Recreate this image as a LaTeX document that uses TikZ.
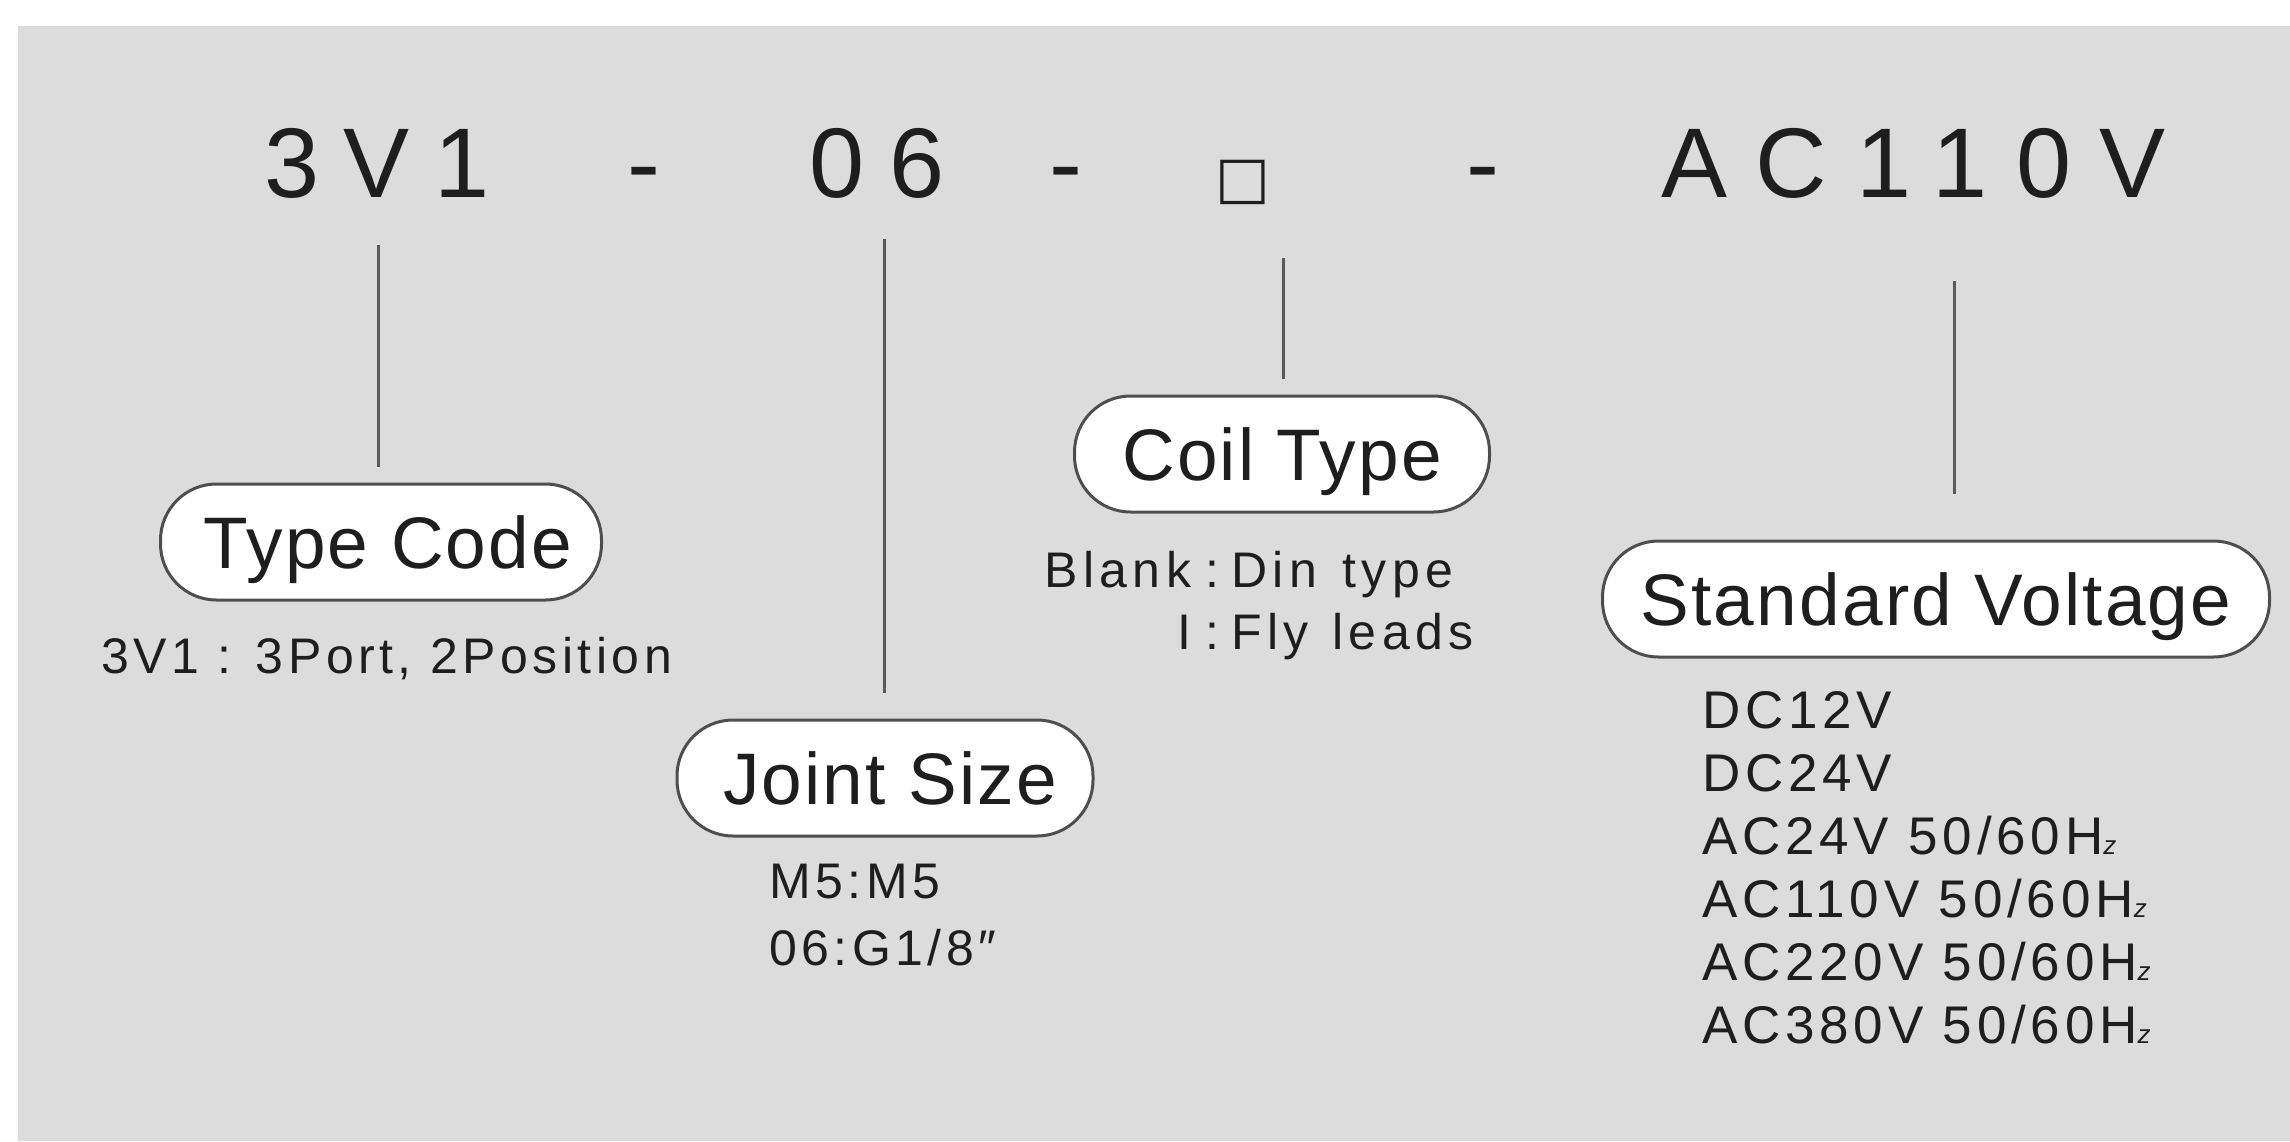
\documentclass[tikz,border=0pt]{standalone}
\usepackage{fontspec}
\setmainfont{Liberation Sans}
\newfontfamily\symfont{DejaVu Sans}
\definecolor{bg}{RGB}{220,220,220}
\definecolor{ink}{RGB}{30,30,30}
\definecolor{edge}{RGB}{78,78,78}
\definecolor{wire}{RGB}{90,90,90}
\newcommand\smallz{{\fontsize{26}{26}\selectfont\itshape z}}
\begin{document}
\begin{tikzpicture}[x=1pt,y=-1pt,
 code/.style={anchor=base west, inner sep=0pt, text=ink,
   font=\fontsize{99}{110}\selectfont\addfontfeatures{LetterSpace=25}},
 pill/.style={draw=edge, line width=3pt, fill=white, rounded corners=56pt,
   minimum height=116pt, inner sep=0pt, text height=52pt, text depth=0pt, text=ink,
   font=\fontsize{73}{80}\selectfont\addfontfeatures{LetterSpace=3}},
 note/.style={anchor=base west, inner sep=0pt, text=ink,
   font=\fontsize{50}{60}\selectfont\addfontfeatures{LetterSpace=9}},
 conn/.style={draw=wire, line width=3pt}]
\fill[white] (0,0) rectangle (2290,1141);
\fill[bg] (18,26) rectangle (2290,1141);
\useasboundingbox (0,0) rectangle (2290,1141);
% model code
\node[code] (c1) at (264,197) {3V1};
\node[code] (h1) at (627,197) {-};
\node[code] (c2) at (809,197) {06};
\node[code] (h2) at (1049,197) {-};
\node[code, font=\symfont\fontsize{58}{58}\selectfont] (c3) at (1215,197) {□};
\node[code] (h3) at (1466,197) {-};
\node[code, font=\fontsize{99}{110}\selectfont\addfontfeatures{LetterSpace=29}] (c4) at (1661,197) {AC110V};
% pills
\node[pill, minimum width=441pt] (p1) at (381,542) {\hspace*{14pt}Type Code};
\node[pill, minimum width=416pt] (p2) at (885,778) {\hspace*{10pt}Joint Size};
\node[pill, minimum width=415pt] (p3) at (1282,454) {Coil Type};
\node[pill, minimum width=667pt] (p4) at (1936,599) {Standard Voltage};
% connectors
\coordinate (t1) at (378,245);
\coordinate (t2) at (884,239);
\coordinate (t3) at (1283,258);
\coordinate (t4) at (1954,281);
\draw[conn, shorten >=16pt] (t1) -- (t1 |- p1.north);
\draw[conn, shorten >=26pt] (t2) -- (t2 |- p2.north);
\draw[conn, shorten >=16pt] (t3) -- (t3 |- p3.north);
\draw[conn, shorten >=46pt] (t4) -- (t4 |- p4.north);
% notes
\node[note] (n1) at (101,673) {3V1 : 3Port, 2Position};
\node[note, font=\fontsize{50}{62}\selectfont\addfontfeatures{LetterSpace=11}] (n3) at (1044,587)
  {\begin{tabular}[t]{@{}r@{\hspace{14pt}:\hspace{12pt}}l@{}}Blank&Din\hspace{6pt} type\\I&Fly\hspace{4pt} leads\end{tabular}};
\node[note, font=\fontsize{50}{67}\selectfont\addfontfeatures{LetterSpace=9}] (n2) at (769,898)
  {\begin{tabular}[t]{@{}l@{}}M5:M5\\06:G1/8\hspace{4pt}″\end{tabular}};
\node[note, font=\fontsize{53}{63}\selectfont\addfontfeatures{LetterSpace=9}] (n4) at (1702,728)
  {\begin{tabular}[t]{@{}l@{}}DC12V\\DC24V\\AC24V 50/60H\smallz\\AC110V 50/60H\smallz\\AC220V 50/60H\smallz\\AC380V 50/60H\smallz\end{tabular}};
\end{tikzpicture}
\end{document}
